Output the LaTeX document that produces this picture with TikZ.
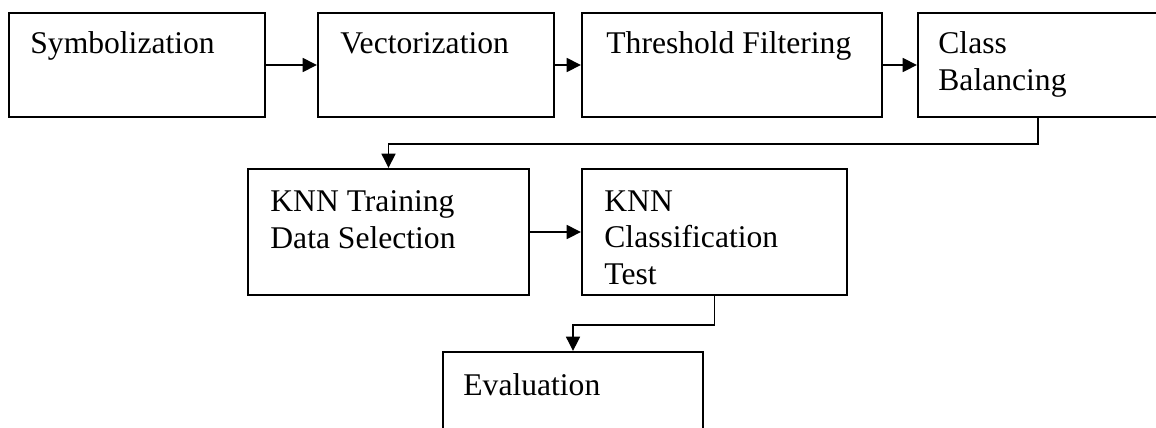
\documentclass[tikz,border=0pt]{standalone}
\usepackage{fontspec}
\setmainfont{Liberation Serif}
\usetikzlibrary{arrows.meta}
\begin{document}
\begin{tikzpicture}[x=0.5pt,y=-0.5pt,
  stagebox/.style={draw,line width=1pt,inner sep=0pt,minimum height=52pt},
  tallbox/.style={stagebox,minimum height=63pt},
  lbl/.style={inner sep=0pt,anchor=base west,align=left,
    font=\fontsize{15.8pt}{18.25pt}\selectfont},
  flow/.style={line width=0.8pt,-{Triangle[length=7.2pt,width=7pt]}}]
\useasboundingbox (0,0) rectangle (1156,428);
% top row
\node[stagebox,minimum width=128pt] (b1) at (137,65) {};
\node[stagebox,minimum width=118pt] (b2) at (436,65) {};
\node[stagebox,minimum width=150pt] (b3) at (732,65) {};
\node[stagebox,minimum width=120pt] (b4) at (1038,65) {};
% middle row
\node[tallbox,minimum width=140.5pt] (b5) at (388.5,232) {};
\node[tallbox,minimum width=132.5pt] (b6) at (714.5,232) {};
% bottom
\node[stagebox,minimum width=130pt,minimum height=44pt] (b7) at (573,396) {};
% labels (anchored on the baseline of their last line)
\node[lbl] (t1) at (30,53) {Symbolization};
\node[lbl] (t2) at (340,53) {Vectorization};
\node[lbl] (t3) at (606,53) {Threshold Filtering};
\node[lbl] (t4) at (938,90) {Class\\Balancing};
\node[lbl] (t5) at (270,248) {KNN Training\\Data Selection};
\node[lbl] (t6) at (604,284) {KNN\\Classification\\Test};
\node[lbl] (t7) at (463,395) {Evaluation};
% connectors
\draw[flow] (b1) -- (b2);
\draw[flow] (b2) -- (b3);
\draw[flow] (b3) -- (b4);
\draw[flow] (b4.south) -- ++(0,26) -| (b5.north);
\draw[flow] (b5) -- (b6);
\draw[flow] (b6.south) -- ++(0,29) -| (b7.north);
\end{tikzpicture}
\end{document}
